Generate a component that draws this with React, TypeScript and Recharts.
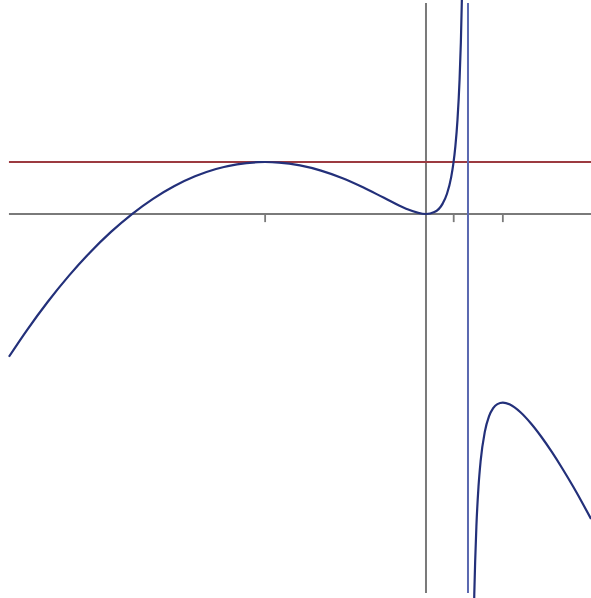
import { LineChart, Line, XAxis, YAxis, ReferenceLine } from "recharts";

// curve: left arm up to the pole at x = 1
const leftX = [-9.93, -9.5, -9, -8.5, -8, -7.5, -7, -6.5, -6, -5.5, -5, -4.5, -4, -3.83, -3.5, -3, -2.5, -2, -1.5, -1, -0.5, 0, 0.2, 0.4, 0.5, 0.6, 0.65, 0.7, 0.75, 0.8, 0.83, 0.86, 0.88, 0.9];
const leftY = [-26.43, -21.49, -16.2, -11.41, -7.11, -3.31, 0, 2.82, 5.14, 6.98, 8.33, 9.2, 9.6, 9.63, 9.53, 9, 8.04, 6.67, 4.95, 3, 1.08, 0, 0.36, 1.97, 3.75, 6.84, 9.23, 12.58, 17.44, 24.96, 31.73, 41.52, 50.85, 63.99];

// right arm, past the pole
const rightX = [1.13, 1.15, 1.2, 1.25, 1.3, 1.4, 1.5, 1.6, 1.7, 1.83, 2, 2.25, 2.5, 2.75, 3, 3.25, 3.5, 3.75, 3.93];
const rightY = [-78.3, -70.42, -57.86, -50.53, -45.82, -40.34, -37.49, -35.96, -35.2, -34.92, -35.28, -36.71, -38.79, -41.29, -44.1, -47.16, -50.42, -53.87, -56.47];

const levelY = 9.63; // height of the local maximum
const poleX = 1;
const tickXs = [-3.83, 0.66, 1.83];

const X_DOMAIN = [-10.143, 3.929];
const Y_DOMAIN = [-71.1, 39.63];
const X_LEFT = -9.93;
const X_RIGHT = 3.93;
const V_TOP = 39.07;
const V_BOTTOM = -70.19;

const CURVE = "#23307a";
const POLE = "#5a68b0";
const LEVEL = "#9c3a40";
const AXIS = "#7a7a7a";

const leftData = leftX.map((x, i) => ({ x, y: leftY[i] }));
const rightData = rightX.map((x, i) => ({ x, y: rightY[i] }));
const axisData = [{ x: X_LEFT, y: 0 }, { x: X_RIGHT, y: 0 }];
const levelData = [{ x: X_LEFT, y: levelY }, { x: X_RIGHT, y: levelY }];

export default function App() {
  return (
    <div style={{ position: "absolute", left: 0, top: 0, width: 591, height: 598, background: "#fff" }}>
      <LineChart width={591} height={598} margin={{ top: 0, right: 0, bottom: 0, left: 0 }}>
        <XAxis type="number" dataKey="x" domain={X_DOMAIN} allowDataOverflow hide />
        <YAxis type="number" dataKey="y" domain={Y_DOMAIN} allowDataOverflow hide />

        <Line data={axisData} dataKey="y" type="linear" stroke={AXIS} strokeWidth={2} dot={false} activeDot={false} isAnimationActive={false} />
        <ReferenceLine
          segment={[{ x: 0, y: V_BOTTOM }, { x: 0, y: V_TOP }]}
          stroke={AXIS}
          strokeWidth={2}
        />
        {tickXs.map((t) => (
          <ReferenceLine
            key={t}
            segment={[{ x: t, y: 0 }, { x: t, y: -1.5 }]}
            stroke={AXIS}
            strokeWidth={1.8}
          />
        ))}
        <Line data={levelData} dataKey="y" type="linear" stroke={LEVEL} strokeWidth={2} dot={false} activeDot={false} isAnimationActive={false} />
        <ReferenceLine
          segment={[{ x: poleX, y: V_BOTTOM }, { x: poleX, y: V_TOP }]}
          stroke={POLE}
          strokeWidth={2}
        />

        <Line data={leftData} dataKey="y" type="monotone" stroke={CURVE} strokeWidth={2.2} dot={false} activeDot={false} isAnimationActive={false} />
        <Line data={rightData} dataKey="y" type="monotone" stroke={CURVE} strokeWidth={2.2} dot={false} activeDot={false} isAnimationActive={false} />
      </LineChart>
    </div>
  );
}
